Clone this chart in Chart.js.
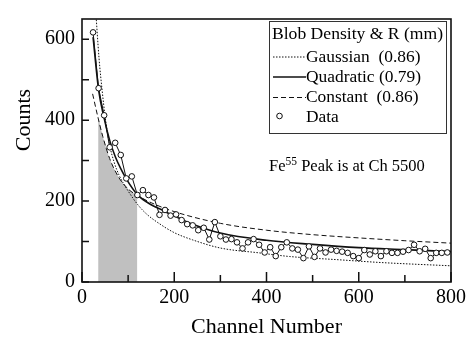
<!DOCTYPE html>
<html>
<head>
<meta charset="utf-8">
<script src="https://cdn.jsdelivr.net/npm/chart.js@4.4.1/dist/chart.umd.min.js"></script>
<style>
  html, body { margin: 0; padding: 0; background: #fff; }
  canvas { display: block; }
</style>
</head>
<body>
<canvas id="c" width="470" height="339"></canvas>
<script>
// Measured spectrum: channel number and counts
const channels = [24, 36, 48, 60, 72, 84, 96, 108, 120, 132, 144, 156, 168, 180, 192, 204, 216, 228, 240, 252,
                  264, 276, 288, 300, 312, 324, 336, 348, 360, 372, 384, 396, 408, 420, 432, 444, 456, 468, 480, 492,
                  504, 516, 528, 540, 552, 564, 576, 588, 600, 612, 624, 636, 648, 660, 672, 684, 696, 708, 720, 732,
                  744, 756, 768, 780, 792];
const counts = [617, 479, 412, 333, 344, 314, 256, 261, 215, 227, 215, 209, 166, 178, 164, 167, 153, 143, 140, 128,
                134, 105, 148, 113, 105, 106, 98, 83, 98, 106, 92, 73, 86, 64, 86, 98, 83, 80, 59, 88,
                62, 83, 73, 80, 77, 75, 72, 64, 59, 79, 68, 76, 64, 76, 72, 72, 75, 79, 92, 76,
                82, 59, 72, 72, 73];

// Fitted curves (blob density models)
const gaussCh  = [28, 37, 44, 50, 60, 70, 80, 100, 121, 140, 168, 200, 240, 300, 384, 450, 556, 650, 800];
const gaussFit = [700, 552, 470, 410, 338, 295, 265, 225, 191, 168, 144, 122, 104, 84, 72, 63, 55, 48, 40];

const quadCh  = [24, 36, 48, 60, 72, 84, 96, 120, 150, 168, 200, 240, 300, 400, 500, 600, 700, 800];
const quadFit = [605, 475, 405, 350, 310, 280, 255, 216, 191, 181, 163, 143, 121, 103, 93, 85, 80, 75];

const constCh  = [23, 35, 45, 60, 80, 100, 120, 150, 200, 300, 400, 500, 600, 700, 800];
const constFit = [465, 405, 360, 305, 258, 230, 214, 196, 174, 145, 128, 117, 109, 102, 96];

// Shaded integration window
const shadeCh  = [35, 45, 60, 80, 100, 120];
const shadeTop = [410, 360, 305, 258, 230, 214];

// Axis ticks
const xMajor = [0, 200, 400, 600, 800];
const xMinor = [100, 300, 500, 700];
const yMajor = [0, 200, 400, 600];
const yMinor = [100, 300, 500];

// Texts
const xTitle = 'Channel Number';
const yTitle = 'Counts';
const legendTitle = 'Blob Density & R (mm)';
const seriesLabels = ['Gaussian  (0.86)', 'Quadratic (0.79)', 'Constant  (0.86)', 'Data'];
const noteParts = ['Fe', '55', ' Peak is at Ch 5500'];

const SERIF = '"Liberation Serif", "Times New Roman", Times, serif';
const INK = '#111';
const pts = (xs, ys) => xs.map((x, i) => ({ x, y: ys[i] }));

const styles = {
  gauss: { borderDash: [1.5, 1.5], borderWidth: 1 },
  quad:  { borderDash: [], borderWidth: 1.6 },
  cons:  { borderDash: [5, 3], borderWidth: 1 }
};

// Inward tick marks, frame, legend, annotation and y title
const decorations = {
  id: 'decorations',
  afterDatasetsDraw(chart) {
    const { ctx, chartArea: a, scales: { x, y } } = chart;
    ctx.save();
    ctx.strokeStyle = INK;
    ctx.lineWidth = 1.5;
    ctx.beginPath();
    const tickX = (v, len) => { const p = x.getPixelForValue(v); ctx.moveTo(p, a.bottom); ctx.lineTo(p, a.bottom - len); };
    const tickY = (v, len) => { const p = y.getPixelForValue(v); ctx.moveTo(a.left, p); ctx.lineTo(a.left + len, p); };
    xMajor.forEach(v => tickX(v, 10));
    xMinor.forEach(v => tickX(v, 7));
    yMajor.forEach(v => tickY(v, 7));
    yMinor.forEach(v => tickY(v, 7));
    ctx.stroke();
    ctx.lineWidth = 1.6;
    ctx.strokeRect(a.left, a.top, a.right - a.left, a.bottom - a.top);

    // legend box
    const L = { left: 269, top: 21, right: 446, bottom: 133 };
    ctx.fillStyle = '#fff';
    ctx.fillRect(L.left, L.top, L.right - L.left, L.bottom - L.top);
    ctx.lineWidth = 1;
    ctx.strokeStyle = '#333';
    ctx.strokeRect(L.left + 0.5, L.top + 0.5, L.right - L.left, L.bottom - L.top);

    ctx.fillStyle = '#000';
    ctx.font = '17.6px ' + SERIF;
    ctx.textBaseline = 'alphabetic';
    ctx.textAlign = 'left';
    ctx.fillText(legendTitle, 272, 39);

    const sampleStyles = [styles.gauss, styles.quad, styles.cons];
    const rowsY = [57, 77, 97.5];
    const baseY = [62, 82, 102, 122];
    sampleStyles.forEach((s, i) => {
      ctx.beginPath();
      ctx.setLineDash(s.borderDash);
      ctx.lineWidth = s.borderWidth;
      ctx.strokeStyle = INK;
      ctx.moveTo(273, rowsY[i]);
      ctx.lineTo(306, rowsY[i]);
      ctx.stroke();
    });
    ctx.setLineDash([]);
    ctx.beginPath();
    ctx.lineWidth = 1;
    ctx.arc(279.5, 116, 2.8, 0, Math.PI * 2);
    ctx.fillStyle = '#fff';
    ctx.fill();
    ctx.stroke();
    ctx.fillStyle = '#000';
    ctx.font = '17.4px ' + SERIF;
    seriesLabels.forEach((t, i) => ctx.fillText(t, 306, baseY[i]));

    // annotation with superscript
    let nx = 269;
    ctx.font = '16.5px ' + SERIF;
    ctx.fillText(noteParts[0], nx, 171);
    nx += ctx.measureText(noteParts[0]).width;
    ctx.font = '11.5px ' + SERIF;
    ctx.fillText(noteParts[1], nx, 165);
    nx += ctx.measureText(noteParts[1]).width;
    ctx.font = '16.5px ' + SERIF;
    ctx.fillText(noteParts[2], nx, 171);

    // y axis title
    ctx.save();
    ctx.translate(24, 120);
    ctx.rotate(-Math.PI / 2);
    ctx.font = '22px ' + SERIF;
    ctx.textAlign = 'center';
    ctx.textBaseline = 'middle';
    ctx.fillText(yTitle, 0, 0);
    ctx.restore();
    ctx.restore();
  }
};

const line = { pointRadius: 0, fill: false, borderColor: INK, cubicInterpolationMode: 'monotone' };

new Chart(document.getElementById('c'), {
  type: 'line',
  data: {
    datasets: [
      { label: 'shade', data: pts(shadeCh, shadeTop), pointRadius: 0, borderWidth: 0,
        fill: 'origin', backgroundColor: '#c0c0c0', cubicInterpolationMode: 'monotone', order: 10 },
      { ...line, label: seriesLabels[0], data: pts(gaussCh, gaussFit), ...styles.gauss, order: 3 },
      { ...line, label: seriesLabels[1], data: pts(quadCh, quadFit), ...styles.quad, order: 2 },
      { ...line, label: seriesLabels[2], data: pts(constCh, constFit), ...styles.cons, order: 1 },
      { label: seriesLabels[3], data: pts(channels, counts), borderColor: INK, borderWidth: 1,
        pointRadius: 2.8, pointBackgroundColor: '#fff', pointBorderColor: INK, pointBorderWidth: 1,
        tension: 0, fill: false, order: 0 }
    ]
  },
  options: {
    responsive: false,
    devicePixelRatio: 1,
    animation: false,
    layout: { padding: { top: 9, right: 17, left: 0, bottom: 0 } },
    plugins: { legend: { display: false }, tooltip: { enabled: false } },
    scales: {
      x: {
        type: 'linear', min: 0, max: 800,
        grid: { display: false, drawTicks: false },
        border: { display: false },
        afterBuildTicks: s => { s.ticks = xMajor.map(v => ({ value: v })); },
        afterFit: s => { s.height = 57; },
        ticks: { color: '#000', font: { family: SERIF, size: 20 }, padding: 4, maxRotation: 0, autoSkip: false },
        title: { display: true, text: xTitle, color: '#000', font: { family: SERIF, size: 22, lineHeight: 1 },
                 padding: { top: 0, bottom: 1 } }
      },
      y: {
        type: 'linear', min: 0, max: 650,
        grid: { display: false, drawTicks: false },
        border: { display: false },
        afterBuildTicks: s => { s.ticks = yMajor.map(v => ({ value: v })); },
        afterFit: s => { s.width = 82; },
        ticks: { color: '#000', font: { family: SERIF, size: 20 }, padding: 7 }
      }
    }
  },
  plugins: [decorations]
});
</script>
</body>
</html>
